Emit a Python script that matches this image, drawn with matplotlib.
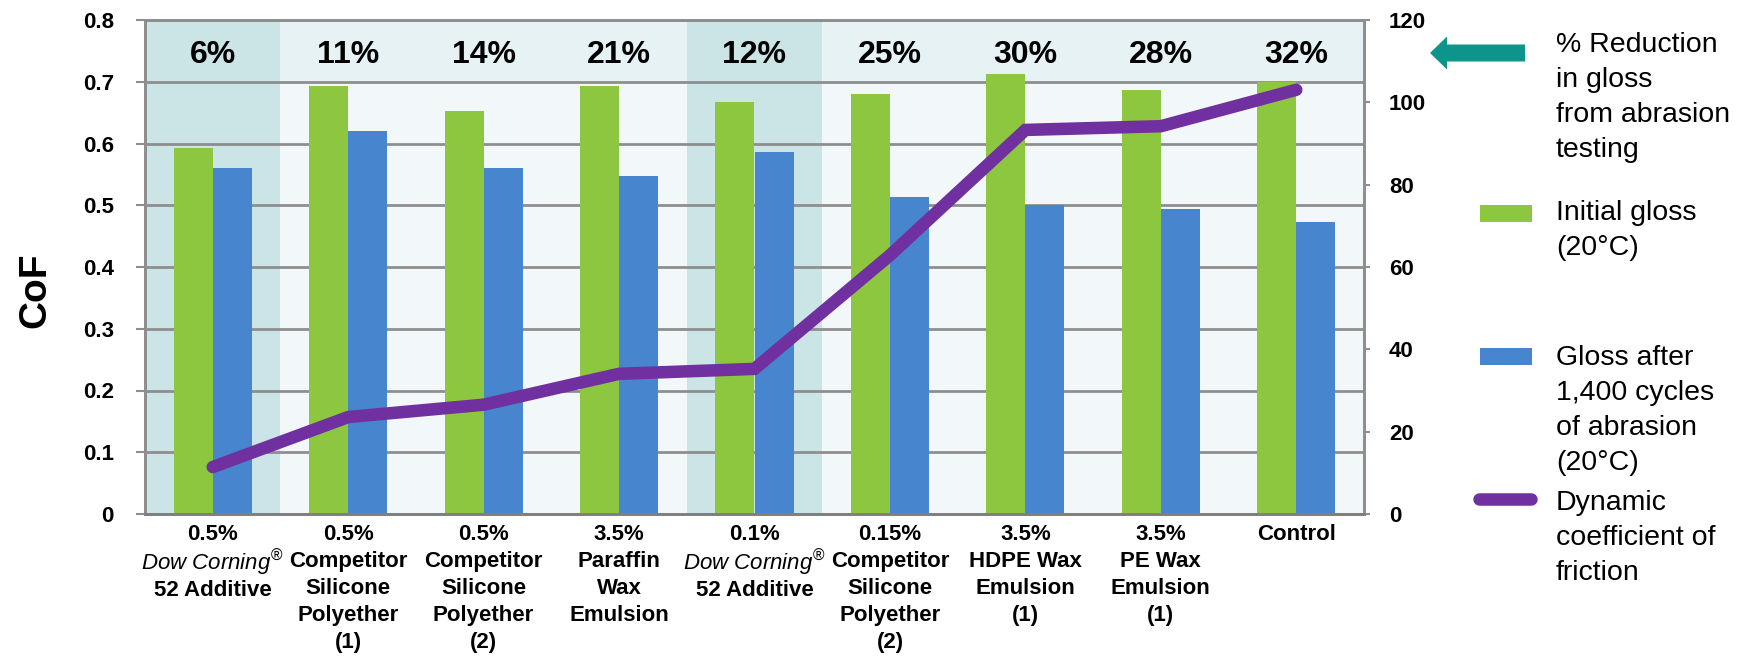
import numpy as np
import matplotlib
matplotlib.use("Agg")
import matplotlib.pyplot as plt
from matplotlib.patches import Rectangle, FancyArrow
from matplotlib.lines import Line2D

plt.rcParams['font.family'] = ['Liberation Sans', 'DejaVu Sans']
plt.rcParams['mathtext.fontset'] = 'custom'
plt.rcParams['mathtext.it'] = 'Liberation Sans:italic'
plt.rcParams['mathtext.rm'] = 'Liberation Sans'

# ---- data ----
categories = [
    "0.5%\n$\\mathit{Dow\\ Corning}^{®}$\n52 Additive",
    "0.5%\nCompetitor\nSilicone\nPolyether\n(1)",
    "0.5%\nCompetitor\nSilicone\nPolyether\n(2)",
    "3.5%\nParaffin\nWax\nEmulsion",
    "0.1%\n$\\mathit{Dow\\ Corning}^{®}$\n52 Additive",
    "0.15%\nCompetitor\nSilicone\nPolyether\n(2)",
    "3.5%\nHDPE Wax\nEmulsion\n(1)",
    "3.5%\nPE Wax\nEmulsion\n(1)",
    "Control",
]
initial_gloss = [89, 104, 98, 104, 100, 102, 107, 103, 105]
gloss_after = [84, 93, 84, 82, 88, 77, 75, 74, 71]
cof = [0.076, 0.157, 0.177, 0.227, 0.235, 0.419, 0.622, 0.628, 0.687]
reduction_pct = [6, 11, 14, 21, 12, 25, 30, 28, 32]
highlight = [True, False, False, False, True, False, False, False, False]

left_ticks = [0, 0.1, 0.2, 0.3, 0.4, 0.5, 0.6, 0.7, 0.8]
right_ticks = [0, 20, 40, 60, 80, 100, 120]

# ---- style ----
GREEN = '#8DC63F'
BLUE = '#4785CE'
PURPLE = '#7030A0'
DARK_BG = '#CBE4E6'
LIGHT_BG = '#F2F7FA'
BAND_BG = '#E6F2F4'
GRID = '#8E8E8E'
TEAL = '#0E958B'

W, H = 1750, 657
fig = plt.figure(figsize=(W / 100, H / 100), dpi=100)
ax = fig.add_axes([145 / W, 1 - 514 / H, (1364 - 145) / W, (514 - 20) / H])
ax2 = ax.twinx()
ax.set_zorder(ax2.get_zorder() + 1)
ax.patch.set_visible(False)

x = np.arange(len(categories))
ymax_l = left_ticks[-1]
ymax_r = right_ticks[-1]
scale = ymax_r / ymax_l
band_lo = left_ticks[-2] * scale

# backgrounds on ax2
for i, hl in enumerate(highlight):
    ax2.add_patch(Rectangle((i - 0.5, 0), 1, ymax_r, facecolor=DARK_BG if hl else LIGHT_BG,
                            edgecolor='none', zorder=0))
    if not hl:
        ax2.add_patch(Rectangle((i - 0.5, band_lo), 1, ymax_r - band_lo, facecolor=BAND_BG,
                                edgecolor='none', zorder=0.5))
for v in left_ticks:
    ax2.axhline(v * scale, color=GRID, lw=2, zorder=1)

bw = 0.288
ax2.bar(x - bw / 2, initial_gloss, width=bw, color=GREEN, zorder=2)
ax2.bar(x + bw / 2, gloss_after, width=bw, color=BLUE, zorder=2)

ax.plot(x, cof, color=PURPLE, lw=9, solid_capstyle='round', solid_joinstyle='miter', zorder=3)

for i, p in enumerate(reduction_pct):
    ax.annotate(f"{p}%", xy=(i, (left_ticks[-1] + left_ticks[-2]) / 2), xytext=(0, -3),
                textcoords='offset points', ha='center', va='center',
                fontsize=23, fontweight='bold', zorder=4)

ax.set_xlim(-0.5, len(categories) - 0.5)
ax.set_ylim(0, ymax_l)
ax2.set_ylim(0, ymax_r)

ax.set_yticks(left_ticks)
ax.set_yticklabels([f"{v:g}" for v in left_ticks], fontsize=16, fontweight='bold')
ax.tick_params(axis='y', length=6.5, width=1.5, color=GRID, pad=16)
ax2.set_yticks(right_ticks)
ax2.set_yticklabels([str(v) for v in right_ticks], fontsize=16, fontweight='bold')
ax2.tick_params(axis='y', length=4, width=1.5, color=GRID, pad=14)

ax.set_xticks(x)
ax.set_xticklabels(categories, fontsize=16, fontweight='bold', linespacing=1.38)
ax.tick_params(axis='x', length=0, pad=7)
# labels with a math (superscript) line get taller lines; tighten them to match
for lbl in ax.get_xticklabels():
    if '$' in lbl.get_text():
        lbl.set_linespacing(1.15)

for a in (ax, ax2):
    for s in a.spines.values():
        s.set_color(GRID)
        s.set_linewidth(2)
ax.spines['bottom'].set_color('#7F7F7F')

fig.text(35 / W, 1 - 290 / H, "CoF", rotation=90, ha='center', va='center',
         fontsize=28, fontweight='bold')

# ---- legend overlay in pixel coordinates ----
ov = fig.add_axes([0, 0, 1, 1], zorder=10)
ov.set_xlim(0, W)
ov.set_ylim(H, 0)
ov.axis('off')
ov.patch.set_visible(False)

ov.add_patch(FancyArrow(1525, 53, -78, 0, width=17, head_width=33, head_length=17,
                        length_includes_head=False, color=TEAL, lw=0))
ov.add_patch(Rectangle((1480, 205), 52, 17, facecolor=GREEN, edgecolor='none'))
ov.add_patch(Rectangle((1480, 348), 52, 17, facecolor=BLUE, edgecolor='none'))
ov.add_line(Line2D([1479, 1531], [499, 499], color=PURPLE, lw=9, solid_capstyle='round'))

legend_blocks = [
    (52, ["% Reduction", "in gloss", "from abrasion", "testing"]),
    (220, ["Initial gloss", "(20°C)"]),
    (365, ["Gloss after", "1,400 cycles", "of abrasion", "(20°C)"]),
    (510, ["Dynamic", "coefficient of", "friction"]),
]
for y0, lines in legend_blocks:
    for k, line in enumerate(lines):
        ov.text(1556, y0 + 35 * k, line, ha='left', va='baseline', fontsize=20.5)

fig.savefig("out.png", dpi=100)
